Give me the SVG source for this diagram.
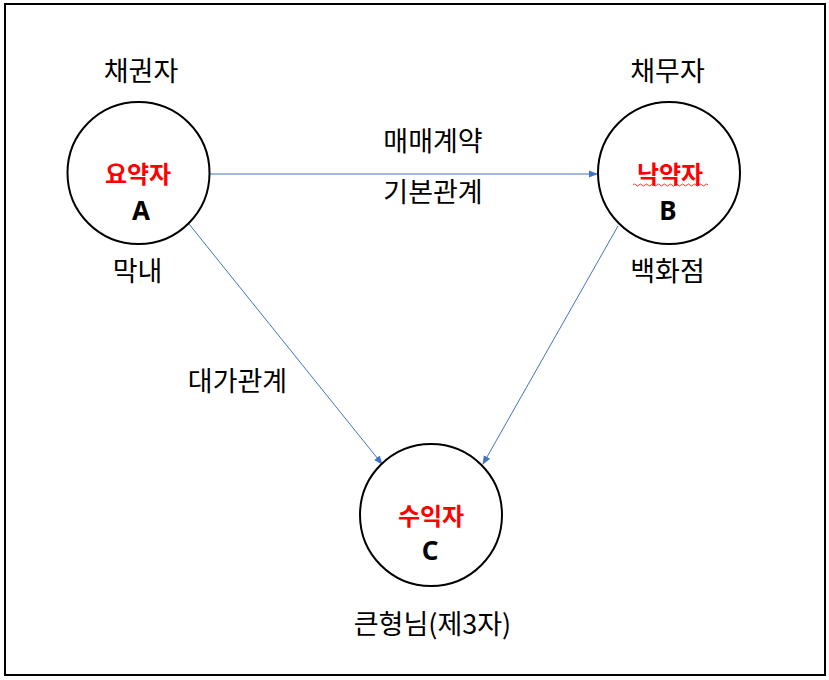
<svg xmlns="http://www.w3.org/2000/svg" width="829" height="680" viewBox="0 0 829 680">
<defs>
<style>
.lbl{font-family:"Noto Sans CJK KR","Noto Sans",sans-serif;font-size:27px;fill:#000;text-anchor:middle}
.role{font-family:"Noto Sans CJK KR","Noto Sans",sans-serif;font-size:24px;font-weight:bold;fill:#ff0000;text-anchor:middle}
.let{font-family:"Noto Sans","Liberation Sans",sans-serif;font-size:26px;font-weight:bold;fill:#000;text-anchor:middle}
.node{fill:#fff;stroke:#000;stroke-width:2}
.conn{stroke:#4472C4;stroke-width:1;fill:none;marker-end:url(#arr)}
</style>
<marker id="arr" viewBox="0 0 10 10" refX="9" refY="5" markerWidth="9" markerHeight="9" orient="auto" markerUnits="userSpaceOnUse">
<path d="M0,1 L10,5 L0,9 Z" fill="#4472C4"/>
</marker>
</defs>
<rect x="5" y="4" width="820" height="671" fill="#fff" stroke="#000" stroke-width="2"/>
<g id="connectors">
<line class="conn" x1="210" y1="174" x2="597" y2="174"/>
<line class="conn" x1="189" y1="224" x2="382" y2="464"/>
<line class="conn" x1="618" y1="226" x2="483" y2="464"/>
</g>
<g id="nodeA">
<circle class="node" cx="138.5" cy="173" r="71"/>
<text class="role" x="138" y="183">요약자</text>
<text class="let" x="141" y="220">A</text>
</g>
<g id="nodeB">
<circle class="node" cx="669" cy="173" r="71"/>
<text class="role" x="670" y="183">낙약자</text>
<path d="M633,185 q1.5,-2 3,0 t3,0 t3,0 t3,0 t3,0 t3,0 t3,0 t3,0 t3,0 t3,0 t3,0 t3,0 t3,0 t3,0 t3,0 t3,0 t3,0 t3,0 t3,0 t3,0 t3,0 t3,0 t3,0 t3,0 t3,0" fill="none" stroke="#ff0000" stroke-width="0.8"/>
<text class="let" x="668" y="220">B</text>
</g>
<g id="nodeC">
<circle class="node" cx="431" cy="515" r="71"/>
<text class="role" x="431" y="525">수익자</text>
<text class="let" x="430" y="560">C</text>
</g>
<g id="labels">
<text class="lbl" x="141" y="81">채권자</text>
<text class="lbl" x="667.5" y="81">채무자</text>
<text class="lbl" x="433" y="151">매매계약</text>
<text class="lbl" x="433" y="202">기본관계</text>
<text class="lbl" x="137.5" y="281">막내</text>
<text class="lbl" x="667.5" y="281">백화점</text>
<text class="lbl" x="237.5" y="391">대가관계</text>
<text class="lbl" x="432.5" y="634">큰형님(제3자)</text>
</g>
</svg>
